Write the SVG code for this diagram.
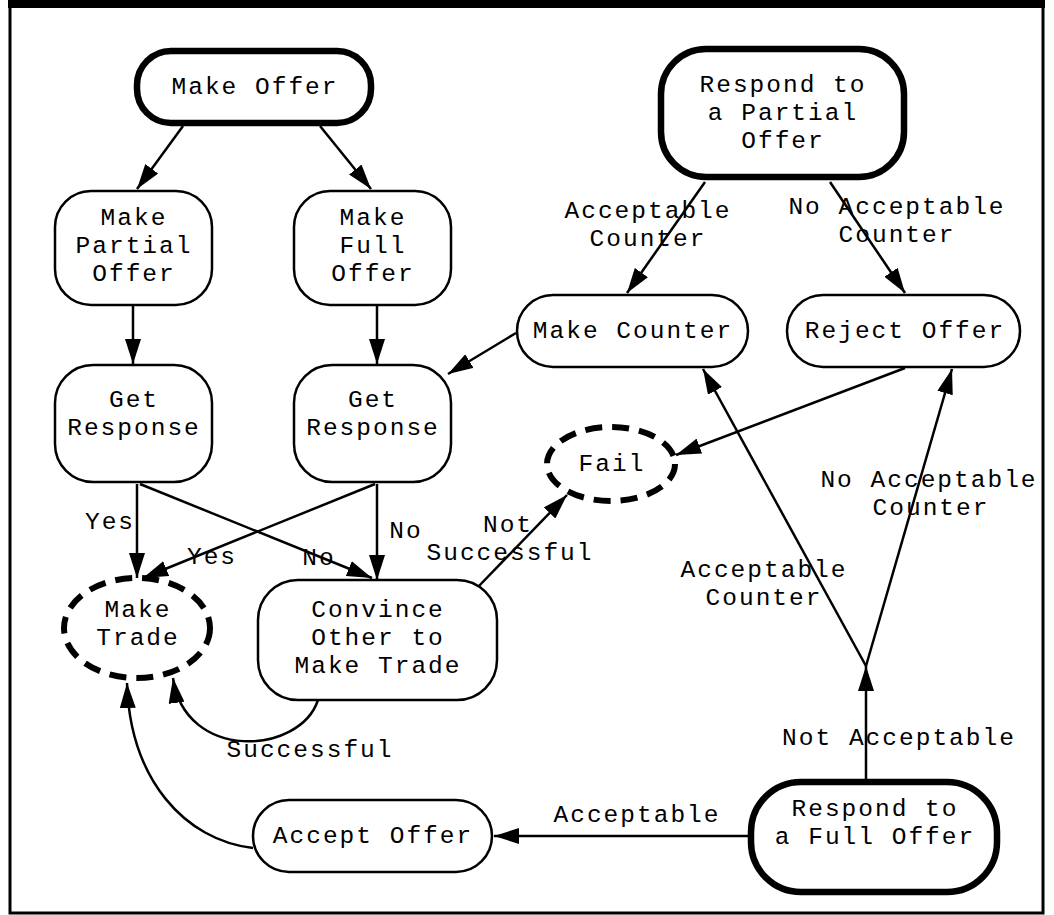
<svg xmlns="http://www.w3.org/2000/svg" width="1054" height="915" viewBox="0 0 1054 915">
<style>
.n{fill:#fff;stroke:#000;stroke-width:2.5}
.t{fill:#fff;stroke:#000;stroke-width:6.5}
.d{fill:#fff;stroke:#000;stroke-width:6;stroke-dasharray:17 10}
text{font-family:"Liberation Mono","Courier New",monospace;font-size:24.5px;letter-spacing:2px;fill:#000;text-anchor:middle}
.e path{fill:none;stroke:#000;stroke-width:2.5;marker-end:url(#a)}
</style>
<defs>
<marker id="a" markerUnits="userSpaceOnUse" viewBox="0 0 25 16" markerWidth="25" markerHeight="16" refX="25" refY="8" orient="auto"><path d="M0,0 L25,8 L0,16 z" fill="#000"/></marker>
</defs>
<rect x="0" y="0" width="1054" height="915" fill="#fff"/>
<rect x="10" y="6" width="1033" height="907" fill="none" stroke="#000" stroke-width="3"/>
<rect x="8" y="0" width="1037" height="8" fill="#000"/>

<g id="edges" class="e">
<path d="M183,126 L137,189"/>
<path d="M320,126 L371,189"/>
<path d="M133,305 L133,364"/>
<path d="M377,305 L377,364"/>
<path d="M516,333 L448,374"/>
<path d="M137,484 L137,578"/>
<path d="M140,484 L372,578"/>
<path d="M375,484 L143,578"/>
<path d="M377,484 L377,580"/>
<path d="M477,588 L567,495"/>
<path d="M318,700 C300,755 185,762 173,678"/>
<path d="M253,848 C185,840 130,780 127,683"/>
<path d="M750,836 L494,836"/>
<path d="M866,781 L866,666"/>
<path d="M866,666 L703,369"/>
<path d="M866,666 L952,369"/>
<path d="M905,368 L676,455"/>
<path d="M705,182 L627,293"/>
<path d="M830,182 L905,293"/>
</g>

<g id="edge-labels">
<text x="648" y="218">Acceptable</text>
<text x="648" y="246">Counter</text>
<text x="897" y="214">No Acceptable</text>
<text x="897" y="242">Counter</text>
<text x="110" y="529">Yes</text>
<text x="212" y="564">Yes</text>
<text x="319" y="565">No</text>
<text x="406" y="538">No</text>
<text x="508" y="532">Not</text>
<text x="510" y="560">Successful</text>
<text x="310" y="757">Successful</text>
<text x="637" y="822">Acceptable</text>
<text x="899" y="745">Not Acceptable</text>
<text x="764" y="577">Acceptable</text>
<text x="764" y="605">Counter</text>
<text x="929" y="487">No Acceptable</text>
<text x="931" y="515">Counter</text>
</g>

<g id="make-offer"><rect class="t" x="137" y="51" width="234" height="72" rx="34"/><text x="255" y="94">Make Offer</text></g>
<g id="make-partial-offer"><rect class="n" x="55" y="191" width="157" height="114" rx="36"/><text x="134" y="225">Make</text><text x="134" y="253">Partial</text><text x="134" y="281">Offer</text></g>
<g id="make-full-offer"><rect class="n" x="294" y="191" width="157" height="114" rx="36"/><text x="373" y="225">Make</text><text x="373" y="253">Full</text><text x="373" y="281">Offer</text></g>
<g id="get-response-1"><rect class="n" x="55" y="365" width="157" height="117" rx="38"/><text x="134" y="407">Get</text><text x="134" y="435">Response</text></g>
<g id="get-response-2"><rect class="n" x="294" y="365" width="157" height="117" rx="38"/><text x="373" y="407">Get</text><text x="373" y="435">Response</text></g>
<g id="make-trade"><ellipse class="d" cx="137" cy="628" rx="73" ry="50"/><text x="138" y="617">Make</text><text x="138" y="645">Trade</text></g>
<g id="convince"><rect class="n" x="258" y="580" width="239" height="120" rx="40"/><text x="378" y="617">Convince</text><text x="378" y="645">Other to</text><text x="378" y="673">Make Trade</text></g>
<g id="fail"><ellipse class="d" cx="611" cy="464" rx="64" ry="37"/><text x="612" y="471">Fail</text></g>
<g id="respond-partial"><rect class="t" x="661" y="49" width="243" height="128" rx="45"/><text x="783" y="92">Respond to</text><text x="783" y="120">a Partial</text><text x="783" y="148">Offer</text></g>
<g id="make-counter"><rect class="n" x="517" y="295" width="231" height="72" rx="36"/><text x="633" y="338">Make Counter</text></g>
<g id="reject-offer"><rect class="n" x="787" y="295" width="233" height="72" rx="36"/><text x="905" y="338">Reject Offer</text></g>
<g id="accept-offer"><rect class="n" x="253" y="800" width="239" height="72" rx="36"/><text x="373" y="843">Accept Offer</text></g>
<g id="respond-full"><rect class="t" x="751" y="782" width="246" height="110" rx="50"/><text x="875" y="816">Respond to</text><text x="875" y="844">a Full Offer</text></g>
</svg>
